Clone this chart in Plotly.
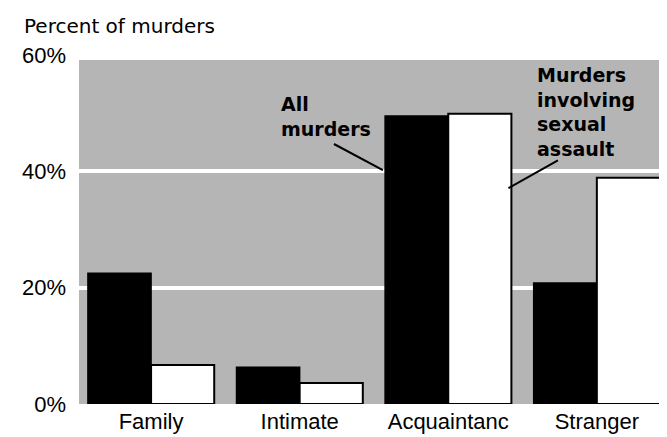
import plotly.graph_objects as go

categories = ["Family", "Intimate", "Acquaintanc", "Stranger"]
all_murders = [22.5, 6.3, 49.5, 20.8]
sexual_assault = [6.7, 3.6, 49.9, 38.9]
y_ticks = [0, 20, 40, 60]
y_tick_labels = ["0%", "20%", "40%", "60%"]

fig = go.Figure()
fig.add_trace(go.Bar(
    x=categories, y=all_murders, name="All murders",
    marker=dict(color="#000000", line=dict(color="#000000", width=1.5)),
))
fig.add_trace(go.Bar(
    x=categories, y=sexual_assault, name="Murders involving sexual assault",
    marker=dict(color="#ffffff", line=dict(color="#000000", width=2)),
))

T, B = 47, 41
fig.update_layout(
    width=667, height=437,
    margin=dict(l=71, r=0, t=T, b=B),
    paper_bgcolor="#ffffff",
    plot_bgcolor="#b5b5b5",
    barmode="group",
    bargap=0.15,
    bargroupgap=0,
    showlegend=False,
    font=dict(family="Liberation Sans, Arial, sans-serif", color="#000000"),
    xaxis=dict(
        range=[-0.485, 3.526],
        showgrid=False, zeroline=False, showline=False,
        ticks="", tickfont=dict(size=22), ticklabelstandoff=2,
    ),
    yaxis=dict(
        range=[0, 60],
        tickvals=y_ticks, ticktext=y_tick_labels,
        showgrid=True, gridcolor="#ffffff", gridwidth=4,
        zeroline=False, showline=False, ticks="",
        tickfont=dict(size=22), ticklabelstandoff=12,
    ),
    annotations=[
        dict(xref="paper", yref="paper", x=0, y=1.0, yshift=T - 18,
             xanchor="left", yanchor="middle", xshift=-71 + 14,
             text="Percent of murders", showarrow=False,
             font=dict(size=20, family="DejaVu Sans, sans-serif")),
        dict(xref="x", yref="y", x=0.861, y=49.5, xanchor="left", yanchor="middle",
             align="left", text="<b>All<br>murders</b>", showarrow=False,
             font=dict(size=19, family="DejaVu Sans, sans-serif")),
        dict(xref="x", yref="y", x=2.584, y=50.2, xanchor="left", yanchor="middle",
             align="left", text="<b>Murders<br>involving<br>sexual<br>assault</b>",
             showarrow=False, font=dict(size=19, family="DejaVu Sans, sans-serif")),
    ],
    shapes=[
        dict(type="rect", xref="paper", yref="y", x0=0, x1=1, y0=59.14, y1=60.5,
             fillcolor="#ffffff", line=dict(width=0), layer="below"),
        dict(type="line", xref="x", yref="y", x0=1.231, y0=44.7, x1=1.56, y1=40.2,
             line=dict(color="#000000", width=2)),
        dict(type="line", xref="x", yref="y", x0=2.738, y0=41.9, x1=2.405, y1=37.1,
             line=dict(color="#000000", width=2)),
    ],
)

fig.write_html("out.html")
